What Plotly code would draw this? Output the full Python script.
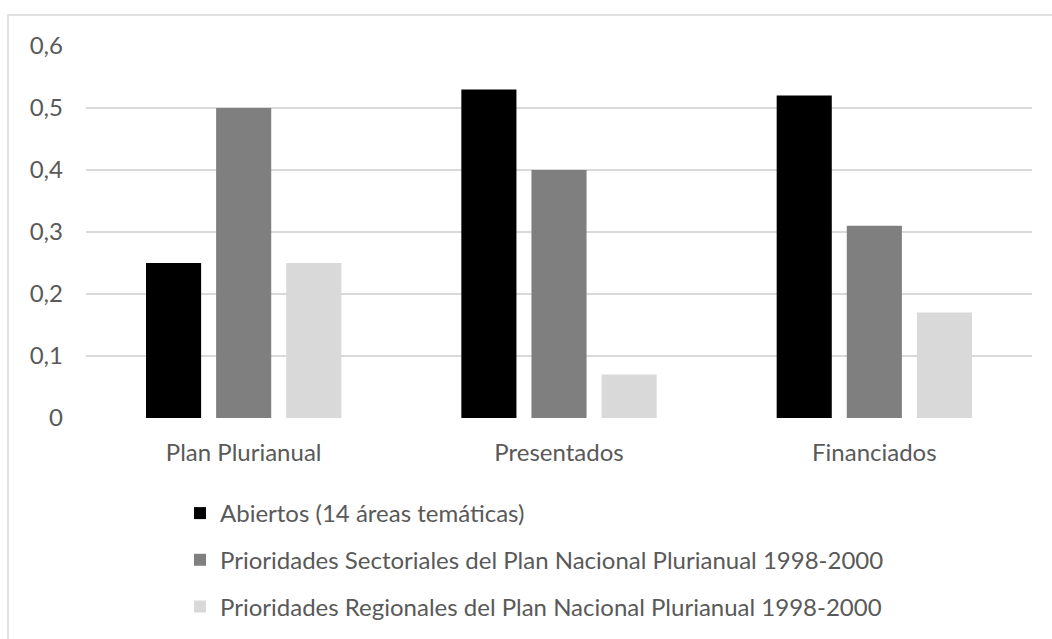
import plotly.graph_objects as go

categories = ["Plan Plurianual", "Presentados", "Financiados"]
series_names = [
    "Abiertos (14 áreas temáticas)",
    "Prioridades Sectoriales del Plan Nacional Plurianual 1998-2000",
    "Prioridades Regionales del Plan Nacional Plurianual 1998-2000",
]
abiertos = [0.25, 0.53, 0.52]
sectoriales = [0.50, 0.40, 0.31]
regionales = [0.25, 0.07, 0.17]
y_ticks = [0, 0.1, 0.2, 0.3, 0.4, 0.5, 0.6]
y_tick_labels = ["0", "0,1", "0,2", "0,3", "0,4", "0,5", "0,6"]

colors = ["#000000", "#7f7f7f", "#d9d9d9"]
text_color = "#595959"
font_family = "Lato, 'Open Sans', sans-serif"
font_size = 24

fig = go.Figure()
for i, (name, vals) in enumerate(zip(series_names, [abiertos, sectoriales, regionales])):
    fig.add_trace(go.Bar(
        x=categories, y=vals, name=name,
        marker=dict(color=colors[i], line=dict(width=0)),
        legendgroup=f"g{i}",
    ))

W, H = 1052, 639
ml, mr, mt, mb = 86, 20, 46, 221
pw, ph = W - ml - mr, H - mt - mb

def px_x(p):
    return (p - ml) / pw

def px_y(p):
    return (H - mb - p) / ph

fig.update_layout(
    width=W, height=H,
    margin=dict(l=ml, r=mr, t=mt, b=mb, autoexpand=False),
    paper_bgcolor="white", plot_bgcolor="white",
    separators=", ",
    barmode="group", bargap=0.333, bargroupgap=0.214,
    font=dict(family=font_family, size=font_size, color=text_color),
    showlegend=True,
    legend=dict(
        x=px_x(180), y=px_y(491), xanchor="left", yanchor="top",
        orientation="v", tracegroupgap=12.5,
        font=dict(size=font_size, color=text_color),
        bgcolor="rgba(0,0,0,0)", itemwidth=30,
    ),
    xaxis=dict(
        showgrid=False, showline=False, zeroline=False,
        ticks="", ticklabelstandoff=18,
        tickfont=dict(size=font_size, color=text_color),
    ),
    yaxis=dict(
        range=[0, 0.6], tickvals=y_ticks, ticktext=y_tick_labels,
        showgrid=True, gridcolor="#d9d9d9", gridwidth=1.5,
        zeroline=False, showline=False, ticks="",
        ticklabelstandoff=22,
        tickfont=dict(size=font_size, color=text_color),
    ),
    shapes=[dict(
        type="rect", xref="paper", yref="paper",
        x0=px_x(8), x1=px_x(1060), y0=px_y(650), y1=px_y(15),
        line=dict(color="#d9d9d9", width=1.5), fillcolor="rgba(0,0,0,0)",
        layer="below",
    )],
)

fig.write_html("out.html")
